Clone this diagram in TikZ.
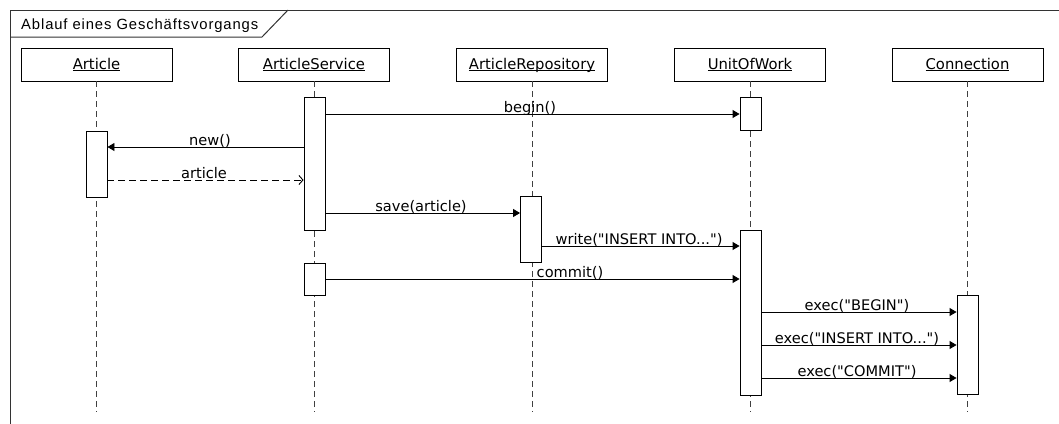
\documentclass[tikz,border=0pt]{standalone}
\usepackage{fontspec}
\setmainfont{DejaVu Sans}[Ligatures=TeXOff]
\newfontfamily\titlefont[LetterSpace=6]{Liberation Sans}
\newcommand\ulname[1]{\underline{\raisebox{0pt}[\height][0pt]{#1}}}
\usetikzlibrary{arrows.meta}
\tikzset{
  x=1pt, y=-1pt,
  frameline/.style={draw=black!80, line width=1pt},
  head/.style={draw=black, line width=0.9pt, minimum width=151pt, minimum height=33pt, inner sep=0pt, font=\fontsize{14.8}{16}\selectfont},
  lifeline/.style={draw=black!75, line width=0.9pt, dash pattern=on 6pt off 4pt},
  act/.style={draw=black, line width=0.9pt, fill=white, minimum width=21pt, inner sep=0pt},
  msg/.style={draw=black, line width=0.9pt, -{Triangle[length=7pt,width=8pt]}},
  ret/.style={draw=black, line width=0.9pt, dash pattern=on 7pt off 4pt, -{Straight Barb[length=4pt,width=9pt]}},
  lbl/.style={anchor=base, inner sep=0pt, font=\fontsize{14.6}{16}\selectfont}
}
\begin{document}
\begin{tikzpicture}
\useasboundingbox (0,0) rectangle (1059,423);
% frame
\coordinate (ftl) at (10,10);
\coordinate (ftr) at (1062,10);
\coordinate (fbl) at (10,426);
\draw[frameline] (fbl) -- (ftl) -- (ftr);
\coordinate (tabA) at (10,37);
\coordinate (tabB) at (262,37);
\coordinate (tabC) at (288,10);
\draw[frameline] (tabA) -- (tabB) -- (tabC);
\node[anchor=base west, inner sep=0pt, font=\titlefont\fontsize{14.8}{16}\selectfont] (title) at (21,29) {Ablauf eines Geschäftsvorgangs};

% heads
\node[head] (hA) at (96.5,64.5) {\ulname{Article}};
\node[head] (hS) at (314,64.5) {\ulname{ArticleService}};
\node[head] (hR) at (532,64.5) {\ulname{ArticleRepository}};
\node[head] (hU) at (750,64.5) {\ulname{UnitOfWork}};
\node[head] (hC) at (967.5,64.5) {\ulname{Connection}};

% lifeline ends
\coordinate (eA) at (96.5,412);
\coordinate (eS) at (314,412);
\coordinate (eR) at (532,412);
\coordinate (eU) at (750,412);
\coordinate (eC) at (967.5,412);
\draw[lifeline] (hA.south) -- (eA);
\draw[lifeline] (hS.south) -- (eS);
\draw[lifeline] (hR.south) -- (eR);
\draw[lifeline] (hU.south) -- (eU);
\draw[lifeline] (hC.south) -- (eC);

% activations
\node[act, minimum height=133pt] (aS1) at (314.5,163.5) {};
\node[act, minimum height=32pt] (aS2) at (314.5,279) {};
\node[act, minimum height=66pt] (aA) at (96.5,164) {};
\node[act, minimum height=33pt] (aU1) at (750.5,113.5) {};
\node[act, minimum height=66pt] (aR) at (531,229) {};
\node[act, minimum height=165pt] (aU2) at (750.5,312.5) {};
\node[act, minimum height=99pt] (aC) at (967.5,345) {};

% messages
\draw[msg] (aS1.east |- 0,114) -- (aU1.west |- 0,114);
\node[lbl] (l1) at (530,112) {begin()};

\draw[msg] (aS1.west |- 0,147) -- (aA.east |- 0,147);
\node[lbl] (l2) at (210,145) {new()};

\draw[ret] (aA.east |- 0,180) -- (aS1.west |- 0,180);
\node[lbl] (l3) at (204,178) {article};

\draw[msg] (aS1.east |- 0,213) -- (aR.west |- 0,213);
\node[lbl] (l4) at (421,211) {save(article)};

\draw[msg] (aR.east |- 0,246) -- (aU2.west |- 0,246);
\node[lbl] (l5) at (639,244) {write("INSERT INTO...")};

\draw[msg] (aS2.east |- 0,279) -- (aU2.west |- 0,279);
\node[lbl] (l6) at (570,277) {commit()};

\draw[msg] (aU2.east |- 0,312) -- (aC.west |- 0,312);
\node[lbl] (l7) at (857,310) {exec("BEGIN")};

\draw[msg] (aU2.east |- 0,345) -- (aC.west |- 0,345);
\node[lbl] (l8) at (857,343) {exec("INSERT INTO...")};

\draw[msg] (aU2.east |- 0,378) -- (aC.west |- 0,378);
\node[lbl] (l9) at (857,376) {exec("COMMIT")};
\end{tikzpicture}
\end{document}
